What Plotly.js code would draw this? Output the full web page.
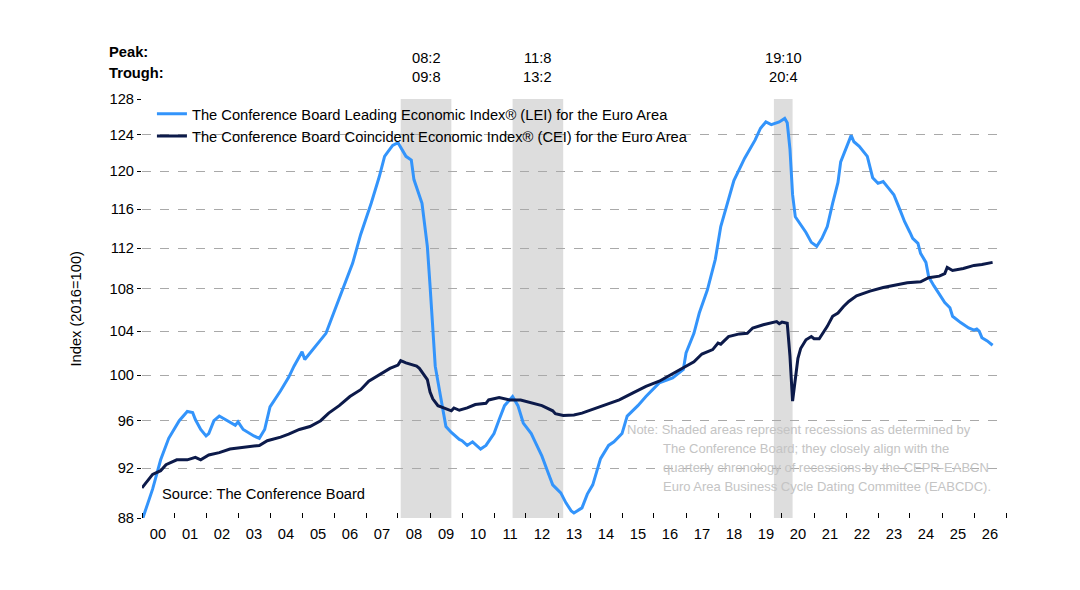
<!DOCTYPE html>
<html>
<head>
<meta charset="utf-8">
<script src="https://cdn.plot.ly/plotly-3.0.1.min.js"></script>
<style>
  html, body { margin: 0; padding: 0; background: #fff; }
  #chart { width: 1080px; height: 590px; }
</style>
</head>
<body>
<div id="chart"></div>
<script>
// Leading index (LEI)
var leiDates = ['2000-01','2000-05','2000-08','2000-11','2001-03','2001-05','2001-06','2001-08','2001-09','2001-11',
  '2002-01','2002-02','2002-04','2002-06','2002-09','2002-12','2003-01','2003-03','2003-07','2003-09','2003-11',
  '2004-01','2004-05','2004-08','2004-10','2005-01','2005-02','2005-05','2005-08','2005-10','2006-01','2006-05',
  '2006-08','2006-11','2007-03','2007-06','2007-08','2007-09','2007-11','2008-01','2008-04','2008-06','2008-07',
  '2008-10','2008-12','2009-01','2009-02','2009-03','2009-05','2009-07','2009-09','2009-12','2010-01','2010-03',
  '2010-05','2010-07','2010-08','2010-10','2011-01','2011-03','2011-05','2011-08','2011-10','2011-12','2012-03',
  '2012-04','2012-07','2012-09','2012-11','2013-02','2013-04','2013-06','2013-07','2013-10','2013-12','2014-02',
  '2014-05','2014-08','2014-10','2015-01','2015-03','2015-07','2015-10','2016-03','2016-08','2016-12','2017-01',
  '2017-04','2017-06','2017-09','2017-12','2018-02','2018-05','2018-07','2018-11','2019-01','2019-03','2019-05',
  '2019-07','2019-09','2019-12','2020-02','2020-03','2020-04','2020-05','2020-06','2020-08','2020-10','2020-12',
  '2021-02','2021-04','2021-06','2021-08','2021-10','2021-11','2022-01','2022-03','2022-04','2022-06','2022-09',
  '2022-11','2023-01','2023-03','2023-05','2023-07','2023-09','2023-11','2024-01','2024-02','2024-04','2024-05',
  '2024-07','2024-08','2024-10','2024-12','2025-02','2025-04','2025-05','2025-08','2025-11','2026-01','2026-02',
  '2026-03','2026-04','2026-06','2026-08'];
var leiValues = [87.8,90.3,92.7,94.5,96.0,96.5,96.8,96.7,96.1,95.25,
  94.7,94.9,96.0,96.4,96.0,95.6,95.9,95.25,94.7,94.5,95.25,
  97.2,98.6,99.8,100.8,102.1,101.4,102.3,103.2,103.8,105.8,108.5,
  110.5,113.4,116.6,119.4,121.6,122.0,122.8,123.1,121.6,121.2,119.1,
  116.6,112.2,108.3,104.4,100.8,98.1,95.5,95.0,94.4,94.3,93.9,
  94.2,93.8,93.6,93.9,94.9,96.1,97.3,98.1,97.3,95.8,94.9,
  94.4,93.0,91.8,90.65,90.0,89.2,88.55,88.4,88.8,89.9,90.65,
  92.8,93.9,94.2,94.9,96.4,97.3,98.1,99.3,99.75,100.5,102.0,
  103.8,105.7,107.9,110.9,114.2,116.9,119.0,121.4,122.5,123.4,124.7,
  125.4,125.1,125.4,125.8,125.3,122.4,117.5,115.2,114.4,113.6,112.6,
  112.2,113.0,114.2,116.6,118.8,121.0,122.4,123.9,123.2,122.7,121.6,
  119.3,118.7,118.9,118.2,117.5,116.1,114.7,113.6,113.0,112.5,111.5,
  110.6,109.2,108.3,107.5,106.7,106.2,105.4,104.8,104.3,104.1,104.2,
  104.0,103.4,103.1,102.7];

// Coincident index (CEI)
var ceiDates = ['2000-01','2000-05','2000-08','2000-10','2001-02','2001-06','2001-09','2001-11','2002-02','2002-06',
  '2002-10','2003-02','2003-05','2003-09','2003-12','2004-05','2004-08','2004-12','2005-04','2005-08','2005-11',
  '2006-03','2006-07','2006-11','2007-02','2007-06','2007-10','2008-01','2008-02','2008-04','2008-08','2008-09',
  '2008-12','2009-01','2009-02','2009-04','2009-07','2009-09','2009-10','2009-12','2010-03','2010-06','2010-10',
  '2010-11','2011-03','2011-07','2011-11','2012-04','2012-07','2012-11','2012-12','2013-03','2013-07','2013-10',
  '2014-02','2014-07','2014-12','2015-05','2015-10','2016-03','2016-08','2017-01','2017-04','2017-07','2017-11',
  '2018-01','2018-02','2018-05','2018-09','2018-12','2019-02','2019-06','2019-08','2019-11','2019-12','2020-01',
  '2020-03','2020-04','2020-05','2020-06','2020-07','2020-08','2020-10','2020-12','2021-01','2021-03','2021-05',
  '2021-06','2021-08','2021-10','2021-12','2022-02','2022-05','2022-10','2023-03','2023-07','2023-12','2024-05',
  '2024-08','2024-12','2025-02','2025-03','2025-05','2025-09','2026-01','2026-04','2026-08'];
var ceiValues = [90.4,91.5,91.8,92.3,92.7,92.7,92.9,92.7,93.1,93.3,
  93.6,93.7,93.8,93.9,94.3,94.6,94.85,95.25,95.5,96.0,96.65,
  97.3,98.1,98.7,99.45,100.0,100.6,100.9,101.3,101.1,100.8,100.6,
  99.6,98.5,97.9,97.3,97.0,96.85,97.1,96.9,97.1,97.4,97.5,
  97.8,98.0,97.8,97.8,97.5,97.3,96.85,96.6,96.45,96.5,96.65,
  97.0,97.4,97.8,98.4,99.0,99.45,100.1,100.8,101.2,101.9,102.3,
  102.9,102.8,103.5,103.75,103.8,104.3,104.6,104.7,104.9,104.7,104.85,
  104.75,101.7,97.7,99.9,101.5,102.4,103.2,103.5,103.3,103.3,104.0,
  104.45,105.4,105.7,106.3,106.8,107.35,107.8,108.15,108.35,108.6,108.7,
  109.1,109.25,109.5,110.1,109.8,110.0,110.3,110.4,110.6];

// recessions (peak / trough)
var recStart = ['2008-02-01','2011-08-01','2019-10-01'];
var recEnd = ['2009-09-01','2013-03-01','2020-05-01'];
var peakLabels = ['08:2','11:8','19:10'];
var troughLabels = ['09:8','13:2','20:4'];

var yTicks = [88, 92, 96, 100, 104, 108, 112, 116, 120, 124, 128];

var noteLines = [
  'Note: Shaded areas represent recessions as determined by',
  'The Conference Board; they closely align with the',
  'quarterly chronology of recessions by the CEPR-EABCN',
  'Euro Area Business Cycle Dating Committee (EABCDC).'
];

var FONT = 'Liberation Sans, Arial, sans-serif';
var FS = 14.7;

var lei = {
  x: leiDates, y: leiValues, type: 'scatter', mode: 'lines',
  name: 'The Conference Board Leading Economic Index® (LEI) for the Euro Area',
  line: {color: '#3394fb', width: 3}
};
var cei = {
  x: ceiDates, y: ceiValues, type: 'scatter', mode: 'lines',
  name: 'The Conference Board Coincident Economic Index® (CEI) for the Euro Area',
  line: {color: '#0c1a4a', width: 3}
};

var shapes = [];
var annotations = [];
recStart.forEach(function(s, i){
  shapes.push({type: 'rect', xref: 'x', yref: 'paper', x0: s, x1: recEnd[i], y0: 0, y1: 1,
    fillcolor: '#dddddd', line: {width: 0}, layer: 'below'});
  var mid = new Date((Date.parse(s) + Date.parse(recEnd[i])) / 2).toISOString().slice(0, 10);
  annotations.push({xref: 'x', yref: 'paper', x: mid, y: 1.0986, text: peakLabels[i], showarrow: false,
    xanchor: 'center', yanchor: 'middle', font: {size: FS, color: '#000'}});
  annotations.push({xref: 'x', yref: 'paper', x: mid, y: 1.0532, text: troughLabels[i], showarrow: false,
    xanchor: 'center', yanchor: 'middle', font: {size: FS, color: '#000'}});
});

annotations.push({xref: 'paper', yref: 'paper', x: -0.0405, y: 1.1115, text: '<b>Peak:</b>', showarrow: false,
  xanchor: 'left', yanchor: 'middle', font: {size: FS, color: '#000'}});
annotations.push({xref: 'paper', yref: 'paper', x: -0.0405, y: 1.062, text: '<b>Trough:</b>', showarrow: false,
  xanchor: 'left', yanchor: 'middle', font: {size: FS, color: '#000'}});
annotations.push({xref: 'paper', yref: 'paper', x: -0.0775, y: 0.5, text: 'Index (2016=100)', showarrow: false,
  textangle: -90, xanchor: 'center', yanchor: 'middle', font: {size: FS, color: '#000'}});
annotations.push({xref: 'paper', yref: 'paper', x: 0.021, y: 0.058, text: 'Source: The Conference Board', showarrow: false,
  xanchor: 'left', yanchor: 'middle', font: {size: FS, color: '#000'}});
noteLines.forEach(function(t, i){
  annotations.push({xref: 'paper', yref: 'paper', x: i === 0 ? 0.5590 : 0.6007, y: 0.2112 - i * 0.0453,
    text: t, showarrow: false, xanchor: 'left', yanchor: 'middle', font: {size: 13, color: '#c4c4c4'}});
});

var layout = {
  width: 1080, height: 590,
  margin: {l: 142, r: 74, t: 99, b: 72},
  paper_bgcolor: '#fff', plot_bgcolor: '#fff',
  font: {family: FONT, size: FS, color: '#000'},
  showlegend: true,
  legend: {x: 0.0115, y: 1.003, xanchor: 'left', yanchor: 'top', bgcolor: 'rgba(0,0,0,0)',
    font: {size: FS, color: '#000'}, tracegroupgap: 0},
  xaxis: {
    type: 'date', range: ['2000-01-01', '2027-01-01'],
    dtick: 'M12', tick0: '2000-01-01', tickformat: '%y', ticklabelmode: 'period',
    ticks: 'inside', ticklen: 5, tickcolor: '#000', ticklabelstandoff: 5,
    showgrid: false, zeroline: false, showline: false,
    tickfont: {size: FS, color: '#000'}
  },
  yaxis: {
    type: 'log', range: [Math.log10(88), Math.log10(128)],
    tickvals: yTicks, ticktext: yTicks.map(String),
    ticks: 'outside', ticklen: 4, tickcolor: '#000',
    showgrid: true, gridcolor: '#a9a9a9', griddash: 'dash', gridwidth: 1,
    zeroline: false, showline: false,
    tickfont: {size: FS, color: '#000'}
  },
  shapes: shapes,
  annotations: annotations
};

Plotly.newPlot('chart', [lei, cei], layout, {displayModeBar: false});
</script>
</body>
</html>
